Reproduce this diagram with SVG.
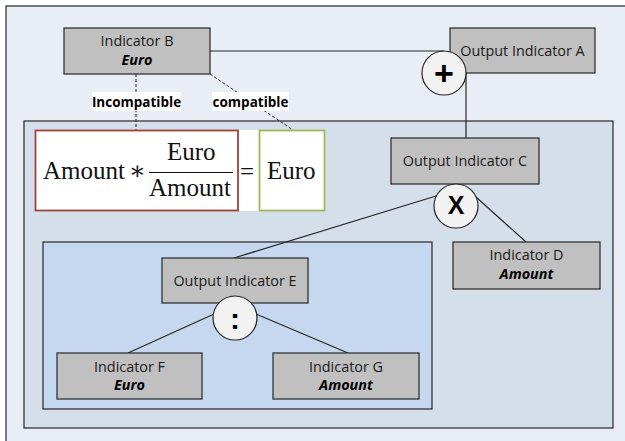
<svg xmlns="http://www.w3.org/2000/svg" width="625" height="441" viewBox="0 0 625 441">
<style>
.box{fill:#c0c0c0;stroke:#262626;stroke-width:1.2}
.op{fill:#f2f2f2;stroke:#262626;stroke-width:1.2}
.t{font-family:"Open Sans","Liberation Sans",sans-serif;font-size:14.4px;fill:#1a1a1a;text-anchor:middle}
.u{font-family:"Open Sans","Liberation Sans",sans-serif;font-size:14.4px;font-weight:bold;font-style:italic;fill:#000;text-anchor:middle}
.lb{font-family:"Open Sans","Liberation Sans",sans-serif;font-size:13.5px;font-weight:bold;fill:#000;text-anchor:middle}
.m{font-family:"Liberation Serif","DejaVu Serif",serif;font-size:25px;fill:#111}
.sym{font-family:"Liberation Sans",Arial,sans-serif;fill:#000;text-anchor:middle}
.ln{stroke:#262626;stroke-width:1.2;fill:none}
.dash{stroke:#262626;stroke-width:1;stroke-dasharray:3,2;fill:none}
</style>
<rect x="0" y="0" width="625" height="441" fill="#ffffff"/>
<rect id="outer-frame" x="6" y="6" width="630" height="450" fill="#e9eef6" stroke="#262626" stroke-width="1.2"/>
<rect id="middle-panel" x="24" y="121" width="589" height="307" fill="#d5dfea" stroke="#262626" stroke-width="1.2"/>
<rect id="inner-panel" x="43" y="242" width="389" height="167" fill="#c5d8f0" stroke="#262626" stroke-width="1.2"/>

<g id="connectors">
<line class="ln" x1="210" y1="51" x2="444" y2="51"/>
<line class="ln" x1="466" y1="73" x2="466" y2="138"/>
<line class="ln" x1="436" y1="196" x2="234" y2="258"/>
<line class="ln" x1="476" y1="197" x2="526" y2="242"/>
<line class="ln" x1="214" y1="314" x2="128" y2="353"/>
<line class="ln" x1="256" y1="314" x2="348" y2="353"/>
<line class="dash" x1="136" y1="74" x2="136" y2="130"/>
<line class="dash" x1="210" y1="74" x2="293" y2="130"/>
</g>

<g id="label-incompatible">
<rect x="92" y="92" width="89" height="19" fill="#ffffff"/>
<text class="lb" x="136.5" y="106.5">Incompatible</text>
</g>
<g id="label-compatible">
<rect x="212" y="92" width="77" height="19" fill="#ffffff"/>
<text class="lb" x="250.5" y="106.5">compatible</text>
</g>

<g id="equation">
<rect x="35" y="130" width="290" height="81" fill="#ffffff"/>
<rect x="35.5" y="130.5" width="202.5" height="80" fill="none" stroke="#a0413a" stroke-width="1.8"/>
<rect x="259.5" y="130.5" width="65" height="80" fill="none" stroke="#9bbb59" stroke-width="1.8"/>
<text class="m" x="43" y="179">Amount</text>
<text class="m" x="129" y="179">∗</text>
<text class="m" x="167" y="160">Euro</text>
<line x1="149" y1="172.5" x2="233" y2="172.5" stroke="#111" stroke-width="1.2"/>
<text class="m" x="149" y="196">Amount</text>
<text class="m" x="240" y="180">=</text>
<text class="m" x="267" y="179">Euro</text>
</g>

<g id="indicator-b">
<rect class="box" x="64" y="28" width="146" height="46"/>
<text class="t" x="137" y="46">Indicator B</text>
<text class="u" x="137" y="65">Euro</text>
</g>
<g id="output-indicator-a">
<rect class="box" x="450" y="28" width="145" height="45"/>
<text class="t" x="522.5" y="56">Output Indicator A</text>
</g>
<g id="op-plus">
<circle class="op" cx="444" cy="73" r="22"/>
<text class="sym" x="444" y="85" font-size="34" font-weight="bold">+</text>
</g>
<g id="output-indicator-c">
<rect class="box" x="391" y="138" width="148" height="46"/>
<text class="t" x="465" y="166">Output Indicator C</text>
</g>
<g id="op-times">
<circle class="op" cx="456" cy="206" r="22"/>
<text class="sym" x="456" y="213.5" font-size="25" font-weight="bold">X</text>
</g>
<g id="indicator-d">
<rect class="box" x="453" y="242" width="147" height="47"/>
<text class="t" x="526.5" y="260">Indicator D</text>
<text class="u" x="526.5" y="279">Amount</text>
</g>
<g id="output-indicator-e">
<rect class="box" x="162" y="258" width="146" height="45"/>
<text class="t" x="235" y="286">Output Indicator E</text>
</g>
<g id="op-divide">
<circle class="op" cx="235" cy="318" r="22"/>
<text class="sym" x="235" y="329" font-size="30" font-weight="bold">:</text>
</g>
<g id="indicator-f">
<rect class="box" x="57" y="353" width="145" height="46"/>
<text class="t" x="129.5" y="372">Indicator F</text>
<text class="u" x="129.5" y="390">Euro</text>
</g>
<g id="indicator-g">
<rect class="box" x="273" y="353" width="146" height="46"/>
<text class="t" x="346" y="372">Indicator G</text>
<text class="u" x="346" y="390">Amount</text>
</g>
</svg>
